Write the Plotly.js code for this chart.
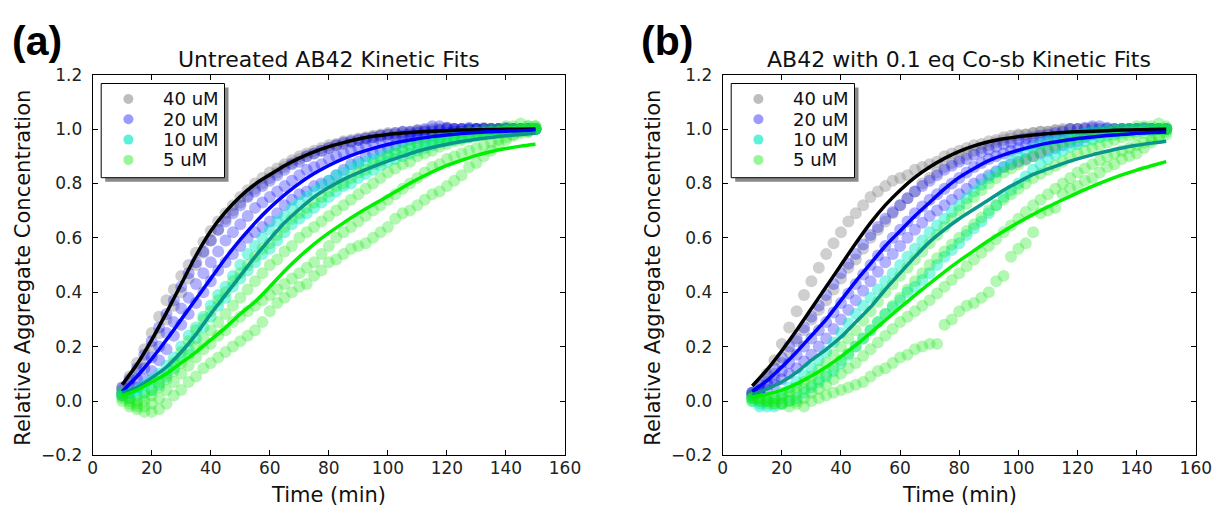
<!DOCTYPE html>
<html>
<head>
<meta charset="utf-8">
<script src="https://cdn.plot.ly/plotly-3.0.1.min.js"></script>
<style>
  html, body { margin: 0; padding: 0; background: #ffffff; }
  #chart { width: 1214px; height: 506px; }
</style>
</head>
<body>
<div id="chart"></div>
<script>
// Sampling times of the ThT traces (min)
const T = [10,12.5,15,17.5,20,22.5,25,27.5,30,32.5,35,37.5,40,42.5,45,47.5,50,52.5,55,57.5,60,62.5,65,67.5,70,72.5,75,77.5,80,82.5,85,87.5,90,92.5,95,97.5,100,102.5,105,107.5,110,112.5,115,117.5,120,122.5,125,127.5,130,132.5,135,137.5,140,142.5,145,147.5,150];

// Times at which the fitted curves are tabulated (min)
const TF = [10,15,20,25,30,35,40,45,50,55,60,65,70,75,80,85,90,95,100,105,110,115,120,125,130,135,140,145,150];

const concLabels = ['40 uM', '20 uM', '10 uM', '5 uM'];

// ---- (a) untreated AB42: replicate traces ----
const untreated40_r1 = [0.05,0.09,0.14,0.19,0.25,0.31,0.37,0.41,0.46,0.50,0.545,0.585,0.625,0.66,0.69,0.72,0.75,0.775,0.80,0.82,0.84,0.855,0.87,0.885,0.90,0.91,0.92,0.93,0.94,0.945,0.955,0.96,0.965,0.97,0.975,0.98,0.985,0.985,0.99,0.99,0.995,0.995,1.0,1.0,1.005,1.0,1.0,1.0,1.0,1.005,1.0,1.0,1.0,1.0,1.0,1.0,1.0];
const untreated40_r2 = [0.04,0.07,0.11,0.15,0.20,0.25,0.30,0.35,0.40,0.45,0.50,0.545,0.59,0.63,0.67,0.70,0.73,0.755,0.78,0.80,0.82,0.84,0.86,0.875,0.89,0.90,0.91,0.92,0.93,0.94,0.945,0.95,0.96,0.965,0.97,0.975,0.98,0.98,0.985,0.985,0.99,0.99,0.995,0.995,1.0,1.0,1.0,1.0,1.0,1.0,1.0,1.0,1.0,1.0,1.0,1.0,1.0];
const untreated20_r1 = [0.05,0.08,0.12,0.17,0.22,0.27,0.32,0.37,0.42,0.47,0.51,0.55,0.59,0.63,0.66,0.69,0.72,0.75,0.77,0.79,0.81,0.83,0.85,0.87,0.88,0.90,0.91,0.92,0.93,0.94,0.95,0.955,0.96,0.965,0.97,0.975,0.98,0.985,0.99,0.99,0.995,1.0,1.01,1.01,1.005,1.0,1.0,1.005,1.0,1.0,1.0,1.0,1.005,1.0,1.0,1.0,1.0];
const untreated20_r2 = [0.03,0.05,0.08,0.12,0.16,0.20,0.25,0.29,0.34,0.38,0.43,0.47,0.51,0.55,0.59,0.62,0.65,0.68,0.71,0.73,0.75,0.77,0.79,0.81,0.83,0.85,0.86,0.87,0.89,0.90,0.91,0.92,0.93,0.94,0.95,0.96,0.965,0.97,0.975,0.98,0.985,0.99,0.99,0.995,1.0,1.0,1.0,1.0,1.0,1.0,1.0,1.0,1.0,1.0,1.0,1.0,1.0];
const untreated20_r3 = [0.02,0.03,0.05,0.08,0.11,0.15,0.19,0.24,0.28,0.32,0.36,0.40,0.44,0.48,0.51,0.54,0.57,0.60,0.62,0.64,0.66,0.69,0.72,0.74,0.76,0.77,0.79,0.80,0.81,0.83,0.85,0.87,0.88,0.90,0.91,0.92,0.93,0.94,0.95,0.96,0.965,0.97,0.975,0.98,0.985,0.99,0.99,0.995,1.0,1.0,1.0,1.0,1.0,1.0,1.0,1.0,1.0];
const untreated10_r1 = [0.03,0.03,0.04,0.06,0.08,0.10,0.13,0.16,0.20,0.24,0.27,0.31,0.35,0.39,0.42,0.46,0.50,0.54,0.57,0.60,0.63,0.66,0.68,0.71,0.73,0.75,0.77,0.79,0.81,0.83,0.84,0.86,0.87,0.88,0.89,0.90,0.91,0.92,0.93,0.94,0.945,0.95,0.955,0.96,0.965,0.97,0.975,0.98,0.985,0.985,0.99,0.99,0.995,0.995,1.0,1.0,1.0];
const untreated10_r2 = [0.02,0.01,0.02,0.03,0.04,0.06,0.09,0.12,0.16,0.19,0.23,0.27,0.31,0.35,0.38,0.42,0.45,0.48,0.51,0.54,0.56,0.59,0.62,0.65,0.67,0.69,0.71,0.73,0.75,0.77,0.79,0.80,0.82,0.835,0.85,0.865,0.88,0.89,0.90,0.91,0.92,0.93,0.94,0.95,0.955,0.96,0.965,0.97,0.975,0.98,0.985,0.985,0.99,0.99,0.995,0.995,1.0];
const untreated5_r1 = [0.01,-0.01,-0.02,-0.04,-0.04,-0.03,-0.01,0.02,0.04,0.07,0.09,0.12,0.14,0.16,0.18,0.20,0.22,0.24,0.26,0.29,0.33,0.36,0.38,0.40,0.42,0.43,0.46,0.48,0.51,0.52,0.54,0.56,0.57,0.58,0.60,0.62,0.64,0.67,0.69,0.70,0.72,0.74,0.76,0.77,0.79,0.81,0.83,0.86,0.875,0.90,0.92,0.94,0.96,0.975,0.985,0.99,1.0];
const untreated5_r2 = [0.00,-0.02,-0.03,-0.02,-0.01,0.01,0.04,0.07,0.10,0.13,0.16,0.19,0.21,0.24,0.26,0.29,0.31,0.33,0.35,0.37,0.39,0.41,0.43,0.45,0.47,0.49,0.51,0.54,0.57,0.60,0.62,0.64,0.66,0.68,0.70,0.72,0.74,0.76,0.78,0.80,0.82,0.84,0.86,0.87,0.89,0.90,0.91,0.92,0.93,0.94,0.95,0.96,0.97,0.98,0.99,0.99,1.0];
const untreated5_r3 = [0.02,0.00,-0.01,0.00,0.02,0.05,0.08,0.11,0.14,0.17,0.20,0.23,0.26,0.29,0.32,0.35,0.38,0.41,0.44,0.47,0.50,0.52,0.55,0.57,0.60,0.62,0.64,0.66,0.68,0.70,0.72,0.74,0.76,0.78,0.80,0.82,0.84,0.855,0.87,0.88,0.90,0.91,0.92,0.935,0.945,0.955,0.96,0.97,0.975,0.98,0.985,0.99,0.995,1.0,1.0,1.01,1.01];
const untreated5_r4 = [0.03,0.01,0.00,0.02,0.04,0.07,0.10,0.14,0.18,0.22,0.26,0.30,0.33,0.37,0.40,0.44,0.47,0.50,0.53,0.56,0.58,0.61,0.64,0.67,0.69,0.71,0.73,0.75,0.77,0.79,0.80,0.82,0.84,0.85,0.87,0.88,0.90,0.91,0.92,0.935,0.945,0.955,0.96,0.97,0.975,0.98,0.985,0.99,0.99,0.995,1.0,1.0,1.01,1.01,1.02,1.01,1.01];

// ---- (a) untreated AB42: kinetic fits ----
const untreatedFit40 = [0.06,0.135,0.225,0.325,0.43,0.535,0.625,0.695,0.752,0.797,0.832,0.865,0.893,0.916,0.935,0.95,0.963,0.973,0.98,0.985,0.989,0.992,0.994,0.996,0.997,0.998,0.999,0.999,1.0];
const untreatedFit20 = [0.035,0.09,0.155,0.225,0.3,0.375,0.45,0.525,0.593,0.655,0.71,0.758,0.8,0.836,0.866,0.891,0.912,0.929,0.943,0.955,0.964,0.972,0.978,0.983,0.987,0.99,0.992,0.994,0.996];
const untreatedFit10 = [0.03,0.05,0.085,0.125,0.18,0.245,0.32,0.39,0.46,0.53,0.595,0.655,0.705,0.75,0.785,0.815,0.84,0.862,0.882,0.9,0.918,0.932,0.944,0.954,0.962,0.969,0.975,0.98,0.984];
const untreatedFit5 = [0.02,0.04,0.07,0.1,0.14,0.18,0.225,0.27,0.32,0.365,0.42,0.478,0.53,0.577,0.618,0.655,0.69,0.722,0.753,0.785,0.815,0.842,0.866,0.885,0.903,0.917,0.928,0.937,0.944];

// ---- (b) AB42 + 0.1 eq Co-sb: replicate traces ----
const cosb40_r1 = [0.03,0.06,0.10,0.15,0.21,0.27,0.33,0.39,0.44,0.49,0.54,0.58,0.62,0.66,0.69,0.72,0.75,0.77,0.79,0.81,0.82,0.83,0.85,0.86,0.87,0.88,0.90,0.91,0.92,0.93,0.94,0.945,0.955,0.96,0.97,0.975,0.98,0.98,0.985,0.99,0.99,0.995,0.995,1.0,1.0,1.0,1.005,1.0,1.0,1.0,1.0,1.0,1.0,1.0,1.0,1.0,1.0];
const cosb40_r2 = [0.02,0.04,0.07,0.10,0.14,0.18,0.22,0.26,0.30,0.335,0.37,0.41,0.45,0.49,0.52,0.56,0.60,0.63,0.66,0.69,0.72,0.745,0.77,0.80,0.82,0.84,0.86,0.875,0.89,0.905,0.92,0.93,0.94,0.95,0.96,0.965,0.975,0.98,0.985,0.99,0.99,0.995,1.0,1.0,1.0,1.0,1.0,1.0,1.0,1.0,1.0,1.0,1.0,1.0,1.0,1.0,1.0];
const cosb20_r1 = [0.03,0.06,0.09,0.12,0.16,0.20,0.23,0.27,0.31,0.35,0.39,0.43,0.47,0.505,0.54,0.575,0.61,0.64,0.67,0.695,0.72,0.745,0.77,0.79,0.81,0.83,0.85,0.865,0.88,0.89,0.905,0.915,0.925,0.935,0.945,0.95,0.96,0.965,0.97,0.975,0.98,0.985,0.99,1.0,1.0,1.005,1.01,1.01,1.005,1.0,1.0,1.0,1.0,1.005,1.0,1.0,1.0];
const cosb20_r2 = [0.03,0.04,0.06,0.08,0.11,0.14,0.17,0.20,0.23,0.26,0.29,0.325,0.36,0.395,0.43,0.465,0.50,0.535,0.57,0.60,0.63,0.66,0.69,0.715,0.74,0.76,0.78,0.80,0.82,0.84,0.86,0.875,0.89,0.90,0.91,0.92,0.93,0.94,0.945,0.95,0.96,0.965,0.97,0.975,0.98,0.985,0.99,0.99,0.995,0.995,1.0,1.0,1.0,1.0,1.0,1.0,1.0];
const cosb20_r3 = [0.02,0.03,0.04,0.06,0.08,0.10,0.12,0.145,0.17,0.20,0.23,0.265,0.30,0.335,0.37,0.405,0.44,0.475,0.51,0.54,0.57,0.60,0.63,0.655,0.68,0.70,0.72,0.74,0.76,0.78,0.80,0.815,0.83,0.845,0.86,0.87,0.88,0.89,0.90,0.91,0.92,0.93,0.94,0.95,0.955,0.97,0.98,0.985,0.99,0.99,0.995,0.995,1.0,1.0,1.0,1.0,1.0];
const cosb10_r1 = [0.00,-0.01,0.00,0.01,0.03,0.05,0.07,0.095,0.12,0.15,0.18,0.215,0.25,0.285,0.32,0.35,0.38,0.41,0.44,0.47,0.50,0.53,0.56,0.59,0.62,0.645,0.67,0.695,0.72,0.745,0.77,0.795,0.82,0.84,0.86,0.88,0.90,0.915,0.93,0.945,0.955,0.96,0.97,0.975,0.98,0.985,0.99,0.99,0.995,0.995,1.0,1.0,1.0,1.0,1.0,1.0,1.0];
const cosb10_r2 = [0.01,-0.02,-0.02,-0.02,-0.01,0.00,0.01,0.03,0.05,0.07,0.09,0.11,0.14,0.17,0.20,0.23,0.26,0.29,0.32,0.345,0.37,0.40,0.42,0.445,0.47,0.50,0.53,0.555,0.58,0.61,0.635,0.66,0.69,0.72,0.75,0.775,0.80,0.825,0.85,0.87,0.89,0.905,0.92,0.935,0.945,0.955,0.96,0.97,0.975,0.98,0.985,0.99,0.99,0.995,0.995,1.0,1.0];
const cosb5_r1 = [0.00,0.00,0.00,-0.01,-0.01,-0.02,-0.01,-0.02,0.00,0.01,0.02,0.03,0.04,0.05,0.06,0.07,0.09,0.11,0.12,0.14,0.16,0.17,0.19,0.20,0.21,0.21,0.28,0.30,0.33,0.35,0.36,0.38,0.40,0.44,0.46,0.53,0.56,0.58,0.62,0.69,0.70,0.71,0.76,0.78,0.79,0.81,0.82,0.84,0.86,0.87,0.89,0.90,0.91,0.93,0.95,0.97,0.99];
const cosb5_r2 = [0.01,0.00,-0.01,-0.01,-0.01,0.00,0.00,0.01,0.03,0.045,0.06,0.08,0.10,0.12,0.14,0.165,0.19,0.215,0.24,0.265,0.29,0.31,0.33,0.35,0.37,0.395,0.42,0.445,0.47,0.495,0.52,0.545,0.57,0.595,0.62,0.645,0.67,0.695,0.72,0.74,0.76,0.78,0.80,0.82,0.84,0.855,0.87,0.885,0.90,0.91,0.92,0.93,0.94,0.95,0.96,0.97,0.98];
const cosb5_r3 = [0.01,0.01,0.00,0.00,0.01,0.02,0.03,0.045,0.06,0.08,0.10,0.125,0.15,0.175,0.20,0.23,0.26,0.29,0.32,0.35,0.38,0.41,0.44,0.47,0.50,0.525,0.55,0.575,0.60,0.625,0.65,0.675,0.70,0.72,0.74,0.76,0.78,0.80,0.82,0.835,0.85,0.865,0.88,0.895,0.91,0.92,0.93,0.94,0.95,0.96,0.97,0.975,0.98,0.985,0.99,1.0,1.0];
const cosb5_r4 = [0.02,0.01,0.01,0.01,0.02,0.035,0.05,0.07,0.09,0.115,0.14,0.17,0.20,0.23,0.26,0.295,0.33,0.365,0.40,0.43,0.46,0.49,0.52,0.55,0.58,0.61,0.64,0.67,0.70,0.725,0.75,0.775,0.80,0.82,0.84,0.855,0.87,0.885,0.90,0.915,0.93,0.94,0.95,0.96,0.97,0.975,0.98,0.985,0.99,0.995,1.0,1.0,1.01,1.01,1.01,1.02,1.01];

// ---- (b) AB42 + 0.1 eq Co-sb: kinetic fits ----
const cosbFit40 = [0.055,0.115,0.185,0.26,0.34,0.42,0.5,0.58,0.655,0.72,0.775,0.822,0.86,0.892,0.918,0.938,0.953,0.964,0.972,0.978,0.983,0.987,0.99,0.992,0.994,0.996,0.997,0.998,0.999];
const cosbFit20 = [0.035,0.075,0.125,0.18,0.24,0.3,0.37,0.44,0.505,0.57,0.625,0.68,0.73,0.78,0.822,0.855,0.884,0.905,0.922,0.936,0.948,0.957,0.965,0.971,0.976,0.98,0.984,0.987,0.989];
const cosbFit10 = [0.022,0.045,0.07,0.105,0.15,0.19,0.235,0.29,0.345,0.41,0.47,0.53,0.585,0.63,0.67,0.705,0.74,0.775,0.805,0.833,0.853,0.873,0.89,0.905,0.918,0.93,0.94,0.948,0.955];
const cosbFit5 = [0.015,0.025,0.04,0.063,0.092,0.125,0.163,0.205,0.25,0.297,0.343,0.388,0.432,0.475,0.515,0.553,0.59,0.624,0.656,0.686,0.714,0.74,0.765,0.789,0.811,0.831,0.849,0.865,0.88];

// ---- styling ----
const W = 1214, H = 506;
const fx = p => p / W;          // pixel column -> paper x
const fy = p => 1 - p / H;      // pixel row    -> paper y

// translucent fills for the replicate points, flat tints for the legend swatches
const dotColors    = ['rgba(128,128,128,0.38)', 'rgba(0,0,255,0.3)', 'rgba(0,238,200,0.45)', 'rgba(20,235,20,0.33)'];
const swatchColors = ['#bebebe', '#9a9aff', '#5cf2da', '#98f598'];
const lineColors   = ['#000000', '#0000ff', '#0a968c', '#00f000'];
const FONT = 'DejaVu Sans, Verdana, sans-serif';

const panels = [
  {
    xa: 'x', ya: 'y', left: 92.7, right: 565,
    title: 'Untreated AB42 Kinetic Fits', tag: '(a)',
    reps: [[untreated40_r1, untreated40_r2],
           [untreated20_r1, untreated20_r2, untreated20_r3],
           [untreated10_r1, untreated10_r2],
           [untreated5_r1, untreated5_r2, untreated5_r3, untreated5_r4]],
    fits: [untreatedFit40, untreatedFit20, untreatedFit10, untreatedFit5]
  },
  {
    xa: 'x2', ya: 'y2', left: 722.7, right: 1195.8,
    title: 'AB42 with 0.1 eq Co-sb Kinetic Fits', tag: '(b)',
    reps: [[cosb40_r1, cosb40_r2],
           [cosb20_r1, cosb20_r2, cosb20_r3],
           [cosb10_r1, cosb10_r2],
           [cosb5_r1, cosb5_r2, cosb5_r3, cosb5_r4]],
    fits: [cosbFit40, cosbFit20, cosbFit10, cosbFit5]
  }
];

const TOP = 74.6, BOTTOM = 455.4;

const traces = [];
const shapes = [];
const annotations = [];

panels.forEach(p => {
  // replicate points, one concentration at a time
  p.reps.forEach((group, k) => {
    group.forEach(ys => {
      traces.push({
        type: 'scatter', mode: 'markers', x: T, y: ys,
        xaxis: p.xa, yaxis: p.ya, showlegend: false, hoverinfo: 'skip',
        marker: { size: 12, color: dotColors[k], line: { width: 0 } }
      });
    });
  });
  // fitted curves drawn over the points
  p.fits.forEach((ys, k) => {
    traces.push({
      type: 'scatter', mode: 'lines', x: TF, y: ys,
      xaxis: p.xa, yaxis: p.ya, showlegend: false, hoverinfo: 'skip',
      line: { color: lineColors[k], width: 3.5, shape: 'spline', smoothing: 0.8 }
    });
  });

  const cx = (p.left + p.right) / 2;

  // panel title, axis titles and panel tag
  annotations.push({ xref: 'paper', yref: 'paper', x: fx(cx), y: fy(59), xanchor: 'center', yanchor: 'middle',
    text: p.title, showarrow: false, font: { family: FONT, size: 22, color: '#111' } });
  annotations.push({ xref: 'paper', yref: 'paper', x: fx(cx), y: 0, xanchor: 'center', yanchor: 'bottom',
    borderpad: 0, yshift: -2,
    text: 'Time (min)', showarrow: false, font: { family: FONT, size: 21, color: '#111' } });
  annotations.push({ xref: 'paper', yref: 'paper', x: fx(p.left - 70), y: fy(268), xanchor: 'center', yanchor: 'middle',
    text: 'Relative Aggregate Concentration', textangle: -90, showarrow: false, font: { family: FONT, size: 21, color: '#111' } });
  annotations.push({ xref: 'paper', yref: 'paper', x: fx(p.left - 56), y: fy(41), xanchor: 'center', yanchor: 'middle',
    text: '<b>' + p.tag + '</b>', showarrow: false, font: { family: 'Liberation Sans, Arial, sans-serif', size: 41, color: '#000' } });

  // legend: shadow, frame, swatches, labels
  const bx = p.left + 8.5, by = 83.5, bw = 123.3, bh = 94.2;
  shapes.push({ type: 'rect', xref: 'paper', yref: 'paper', layer: 'above',
    x0: fx(bx + 4), x1: fx(bx + bw + 4), y0: fy(by + bh + 4), y1: fy(by + 4),
    fillcolor: '#8a8a8a', line: { width: 0 } });
  shapes.push({ type: 'rect', xref: 'paper', yref: 'paper', layer: 'above',
    x0: fx(bx), x1: fx(bx + bw), y0: fy(by + bh), y1: fy(by),
    fillcolor: '#ffffff', line: { color: '#000000', width: 1 } });
  concLabels.forEach((lab, k) => {
    const rowY = 99 + 20.3 * k;
    const mx = bx + 27.2, r = 5;
    shapes.push({ type: 'circle', xref: 'paper', yref: 'paper', layer: 'above',
      x0: fx(mx - r), x1: fx(mx + r), y0: fy(rowY + r), y1: fy(rowY - r),
      fillcolor: swatchColors[k], line: { width: 0 } });
    annotations.push({ xref: 'paper', yref: 'paper', x: fx(bx + 59.5), y: fy(rowY), xanchor: 'left', yanchor: 'middle',
      text: lab, showarrow: false, font: { family: FONT, size: 18, color: '#111' } });
  });
});

function xAxis(p, anchor) {
  return {
    domain: [fx(p.left), fx(p.right)], anchor: anchor, range: [0, 160], dtick: 20, tick0: 0,
    ticks: 'inside', ticklen: 5, tickwidth: 1, tickcolor: '#000',
    showline: true, linecolor: '#000', linewidth: 1, mirror: 'ticks',
    showgrid: false, zeroline: false, fixedrange: true, ticklabelstandoff: -3,
    tickfont: { family: FONT, size: 17, color: '#222' }
  };
}
function yAxis(anchor) {
  return {
    domain: [fy(BOTTOM), fy(TOP)], anchor: anchor, range: [-0.2, 1.2], dtick: 0.2, tick0: 0,
    tickformat: '.1f',
    ticks: 'inside', ticklen: 5, tickwidth: 1, tickcolor: '#000',
    showline: true, linecolor: '#000', linewidth: 1, mirror: 'ticks',
    showgrid: false, zeroline: false, fixedrange: true, ticklabelstandoff: 6,
    tickfont: { family: FONT, size: 17, color: '#222' }
  };
}

const layout = {
  width: W, height: H,
  margin: { l: 0, r: 0, t: 0, b: 0 },
  paper_bgcolor: '#ffffff', plot_bgcolor: '#ffffff',
  showlegend: false,
  xaxis: xAxis(panels[0], 'y'),
  yaxis: yAxis('x'),
  xaxis2: xAxis(panels[1], 'y2'),
  yaxis2: yAxis('x2'),
  shapes: shapes,
  annotations: annotations
};

Plotly.newPlot('chart', traces, layout, { staticPlot: true, displayModeBar: false });
</script>
</body>
</html>
